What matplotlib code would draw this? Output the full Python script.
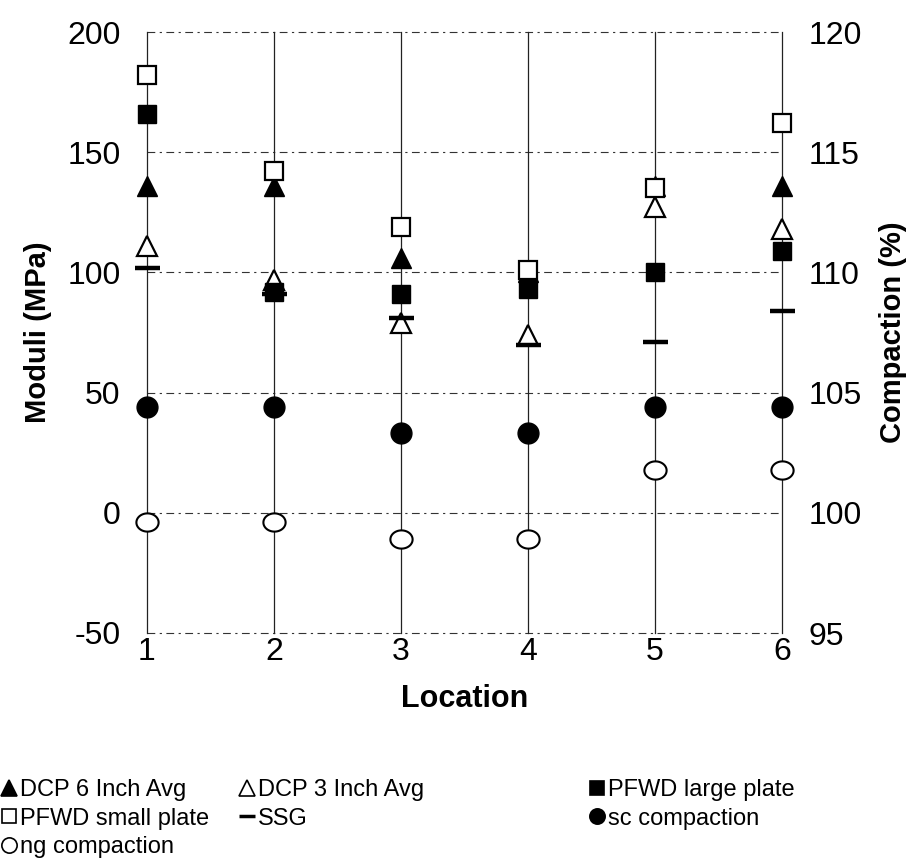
import numpy as np
import matplotlib
matplotlib.use("Agg")
import matplotlib.pyplot as plt
from matplotlib import font_manager
from matplotlib.path import Path
from matplotlib.lines import Line2D

# ---- data ----
locations = [1, 2, 3, 4, 5, 6]
dcp6 = [136, 136, 106, 100, 136, 136]
dcp3 = [111, 97, 79, 74, 127, 118]
pfwd_large = [166, 92, 91, 93, 100, 109]
pfwd_small = [182, 142, 119, 101, 135, 162]
ssg = [102, 91, 81, 70, 71, 84]
sc_comp = [104.4, 104.4, 103.3, 103.3, 104.4, 104.4]
ng_comp = [99.6, 99.6, 98.9, 98.9, 101.8, 101.8]

left_ticks = [-50, 0, 50, 100, 150, 200]
right_ticks = [95, 100, 105, 110, 115, 120]

names = [f.name for f in font_manager.fontManager.ttflist]
base_font = "Liberation Sans" if "Liberation Sans" in names else "DejaVu Sans"
narrow_font = "Liberation Sans Narrow" if "Liberation Sans Narrow" in names else base_font
plt.rcParams['font.family'] = [base_font, 'DejaVu Sans']
plt.rcParams['axes.unicode_minus'] = False

fig = plt.figure(figsize=(9.24, 8.64), dpi=100)
ax = fig.add_axes([147/924, 1-633/864, (782-147)/924, (633-32)/864])
ax2 = ax.twinx()

ax.set_xlim(1, 6)
ax.set_ylim(-50, 200)
ax2.set_ylim(95, 120)
ax.set_xticks(locations)
ax.set_yticks(left_ticks)
ax2.set_yticks(right_ticks)

for a in (ax, ax2):
    for s in a.spines.values():
        s.set_visible(False)

ax.tick_params(axis='both', length=0, labelsize=23)
ax.tick_params(axis='y', pad=19)
ax.tick_params(axis='x', pad=3)
ax2.tick_params(axis='y', length=0, labelsize=23, pad=19)

# grid
for yv in left_ticks:
    ax.axhline(yv, color='#333333', lw=0.8, ls=(0, (7, 4, 2, 4)), zorder=0, clip_on=False)
for xv in locations:
    ax.axvline(xv, color='#222222', lw=0.9, zorder=0, clip_on=False)

ax.set_xlabel("Location", fontsize=22, fontweight='bold')
ax.set_ylabel("Moduli (MPa)", fontsize=21, fontweight='bold')
ax2.set_ylabel("Compaction (%)", fontsize=21, fontweight='bold', rotation=90)
ax.xaxis.set_label_coords(0.5, -0.11)
ax.yaxis.set_label_coords(-0.172, 0.5)
ax2.yaxis.set_label_coords(1.175, 0.5)
ax.xaxis.label.set_va('center')
ax.yaxis.label.set_va('center')
ax2.yaxis.label.set_va('center')

# ellipse marker for ng compaction
t = np.linspace(0, 2*np.pi, 60)
ell = Path(np.column_stack([np.cos(t), 0.82*np.sin(t)]), closed=True)

kw = dict(ls='none', clip_on=False, zorder=5)
h1, = ax.plot(locations, dcp6, marker='^', ms=15, mfc='black', mec='black', label='DCP 6 Inch Avg', **kw)
h2, = ax.plot(locations, dcp3, marker='^', ms=15, mfc='white', mec='black', mew=1.6, label='DCP 3 Inch Avg', **kw)
h3, = ax.plot(locations, pfwd_large, marker='s', ms=13.5, mfc='black', mec='black', label='PFWD large plate', **kw)
h4, = ax.plot(locations, pfwd_small, marker='s', ms=13.5, mfc='white', mec='black', mew=1.6, label='PFWD small plate', **kw)
h5, = ax.plot(locations, ssg, marker='_', ms=18, mec='black', mew=3.2, label='SSG', **kw)
h6, = ax2.plot(locations, sc_comp, marker='o', ms=15, mfc='black', mec='black', label='sc compaction', **kw)
h7, = ax2.plot(locations, ng_comp, marker=ell, ms=16, mfc='white', mec='black', mew=1.5, label='ng compaction', **kw)

ax2.set_zorder(ax.get_zorder() + 1)
ax2.patch.set_visible(False)

# legend: three columns placed separately
def mk(marker, filled, ms, mew=1.2):
    return Line2D([], [], ls='none', marker=marker, ms=ms,
                  mfc='black' if filled else 'white', mec='black', mew=mew)

cols = [
    ([mk('^', True, 11), mk('s', False, 10), mk('o', False, 11)],
     ['DCP 6 Inch Avg', 'PFWD small plate', 'ng compaction'], 2/924),
    ([mk('^', False, 11), mk('_', True, 12, 2.5)],
     ['DCP 3 Inch Avg', 'SSG'], 240/924),
    ([mk('s', True, 10), mk('o', True, 11)],
     ['PFWD large plate', 'sc compaction'], 590/924),
]
for handles, labels, x0 in cols:
    fig.legend(handles, labels, loc='upper left', bbox_to_anchor=(x0, 1-779/864),
               frameon=False, handlelength=0.6, handletextpad=0.15,
               labelspacing=0.28, borderaxespad=0, borderpad=0,
               prop={'family': [narrow_font, 'DejaVu Sans'], 'size': 17})

fig.savefig("out.png", dpi=100)
